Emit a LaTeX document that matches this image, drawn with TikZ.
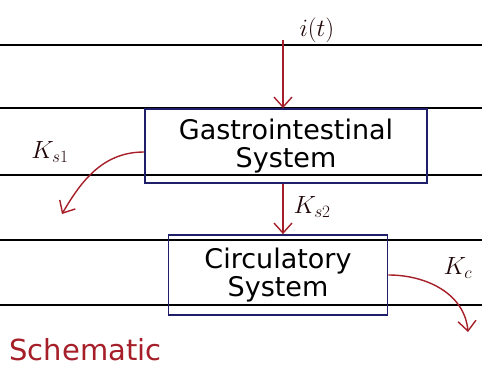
\documentclass[tikz,border=0pt]{standalone}
\usepackage{fontspec}
\setmainfont{DejaVu Sans}
\usetikzlibrary{arrows.meta}
\definecolor{inkred}{RGB}{165,30,40}
\definecolor{inkblue}{RGB}{30,30,105}
\tikzset{
  ruled/.style={black, line width=1.3pt},
  sysbox/.style={draw=inkblue, line width=1.8pt, minimum width=#1, align=center, font=\fontsize{27}{28}\selectfont, inner sep=2pt},
  flow/.style={inkred, line width=1.4pt, -{Straight Barb[length=10pt,width=18pt]}},
  lbl/.style={inkred!20!black, font=\fontsize{26}{28}\selectfont},
}
\begin{document}
\begin{tikzpicture}[x=1pt,y=-1pt]
\useasboundingbox (0,0) rectangle (482,367);
\foreach \yy in {45,108,175,240,305} \draw[ruled] (0,\yy) -- (482,\yy);
\node[sysbox=282pt, minimum height=74pt] (gi) at (286,146) {Gastrointestinal\\System};
\node[sysbox=219pt, minimum height=80pt] (cs) at (278,275) {Circulatory\\System};
\coordinate (src) at (283,40);
\coordinate (s1) at (62,214);
\coordinate (sc) at (468,332);
\node[lbl, anchor=west] (it) at (296,30) {$i(t)$};
\node[lbl] (ks1) at (50,152) {$K_{s1}$};
\node[lbl, anchor=west] (ks2) at (290,207) {$K_{s2}$};
\node[lbl, anchor=west] (kc) at (440,268) {$K_c$};
\node[inkred, font=\fontsize{29}{30}\selectfont, anchor=west] (sch) at (6,350) {Schematic};
\draw[flow] (src) -- (gi.north -| src);
\draw[flow] (gi.south -| src) -- (cs.north -| src);
\draw[flow] ([yshift=-6pt]gi.west) to[out=180,in=60] (s1);
\draw[flow] (cs.east) to[out=0,in=95] (sc);
\end{tikzpicture}
\end{document}
